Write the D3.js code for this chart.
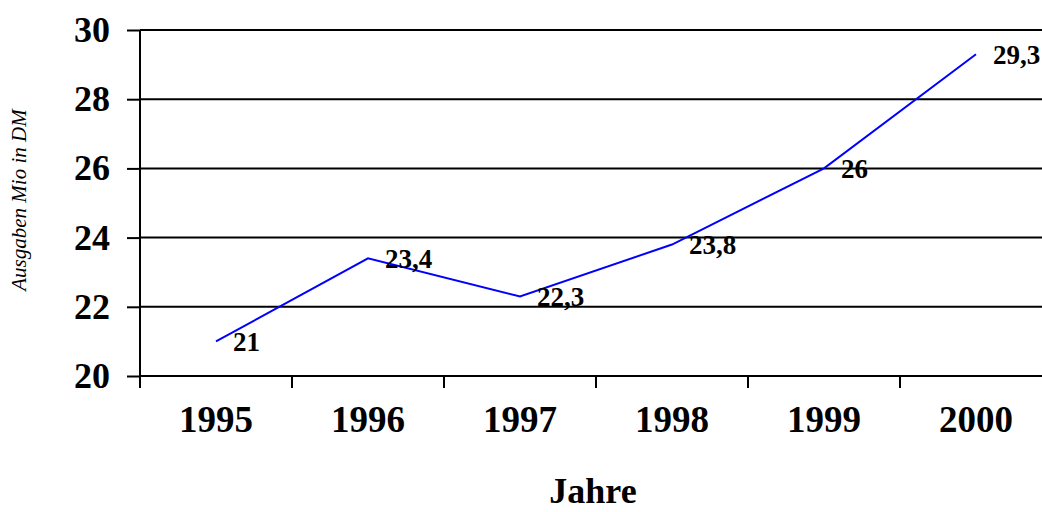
<!DOCTYPE html>
<html>
<head>
<meta charset="utf-8">
<script src="https://cdn.jsdelivr.net/npm/d3@7"></script>
<style>
  html, body { margin: 0; padding: 0; background: #fff; }
  svg { display: block; }
  text { font-family: "Liberation Serif", "Times New Roman", serif; }
</style>
</head>
<body>
<svg id="chart" width="1042" height="512"></svg>
<script>
const categories = ["1995", "1996", "1997", "1998", "1999", "2000"];
const values = [21, 23.4, 22.3, 23.8, 26, 29.3];
const yTicks = [20, 22, 24, 26, 28, 30];
const yTitle = "Ausgaben Mio in DM";
const xTitle = "Jahre";

(function () {
const svg = d3.select("#chart");
const mLeft = 140, mRight = 1052, mTop = 30, mBottom = 376;

const x = d3.scaleBand().domain(categories).range([mLeft, mRight]).padding(0);
const y = d3.scaleLinear().domain([20, 30]).range([mBottom, mTop]);

// gridlines
svg.append("g")
  .selectAll("line")
  .data(yTicks.filter(d => d !== 20))
  .join("line")
  .attr("x1", mLeft).attr("x2", mRight)
  .attr("y1", d => y(d)).attr("y2", d => y(d))
  .attr("stroke", "#000").attr("stroke-width", 2);

// y axis
const yAxis = svg.append("g")
  .attr("transform", `translate(${mLeft},0)`)
  .call(d3.axisLeft(y).tickValues(yTicks).tickSize(13).tickPadding(17).tickFormat(d3.format("d")));
yAxis.select(".domain").attr("stroke", "#000").attr("stroke-width", 2)
  .attr("d", `M0,${mTop}V${mBottom + 12}`);
yAxis.selectAll(".tick line").attr("stroke", "#000").attr("stroke-width", 2);
yAxis.selectAll(".tick text")
  .attr("font-family", "'Liberation Serif', 'Times New Roman', serif")
  .attr("font-size", 36).attr("font-weight", "bold").attr("fill", "#000");

// x axis baseline + labels
const xAxis = svg.append("g")
  .attr("transform", `translate(0,${mBottom})`)
  .call(d3.axisBottom(x).tickSize(0).tickPadding(30));
xAxis.select(".domain").attr("stroke", "#000").attr("stroke-width", 2)
  .attr("d", `M${mLeft},0H${mRight}`);
xAxis.selectAll(".tick text")
  .attr("font-family", "'Liberation Serif', 'Times New Roman', serif")
  .attr("font-size", 37).attr("font-weight", "bold").attr("fill", "#000");

// category boundary ticks
svg.append("g")
  .selectAll("line")
  .data(categories)
  .join("line")
  .attr("x1", d => x(d)).attr("x2", d => x(d))
  .attr("y1", mBottom).attr("y2", mBottom + 12)
  .attr("stroke", "#000").attr("stroke-width", 2);

// line
const line = d3.line()
  .x((d, i) => x(categories[i]) + x.bandwidth() / 2)
  .y(d => y(d));
svg.append("path")
  .datum(values)
  .attr("d", line)
  .attr("fill", "none")
  .attr("stroke", "#0000ff")
  .attr("stroke-width", 2);

// data labels
svg.append("g")
  .selectAll("text")
  .data(values)
  .join("text")
  .attr("x", (d, i) => x(categories[i]) + x.bandwidth() / 2 + 17)
  .attr("y", d => y(d))
  .attr("dy", "0.35em")
  .attr("font-size", 27).attr("font-weight", "bold").attr("fill", "#000")
  .text(d => String(d).replace(".", ","));

// axis titles
svg.append("text")
  .attr("x", 593).attr("y", 503)
  .attr("text-anchor", "middle")
  .attr("font-size", 36).attr("font-weight", "bold").attr("fill", "#000")
  .text(xTitle);

svg.append("text")
  .attr("transform", "translate(26,200) rotate(-90)")
  .attr("text-anchor", "middle")
  .attr("font-size", 21).attr("font-style", "italic").attr("fill", "#000")
  .text(yTitle);
})();
</script>
</body>
</html>
